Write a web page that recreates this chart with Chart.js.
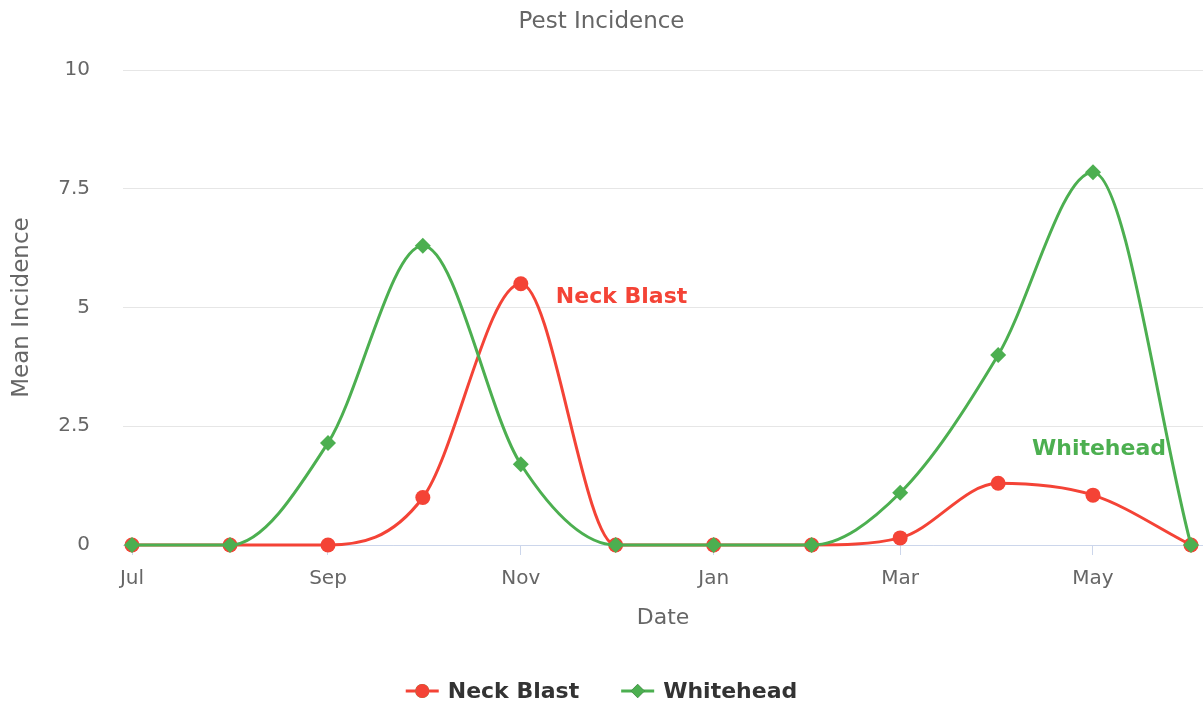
<!DOCTYPE html>
<html>
<head>
<meta charset="utf-8">
<title>Pest Incidence</title>
<script src="https://cdn.jsdelivr.net/npm/chart.js@4"></script>
<style>
  html, body { margin: 0; padding: 0; background: #fff; }
  #wrap { width: 1203px; height: 707px; }
</style>
</head>
<body>
<div id="wrap"><canvas id="pestChart" width="1203" height="707"></canvas></div>
<script>
// months from Jul to Jun, one survey at the start of each month
const months = ['Jul', 'Aug', 'Sep', 'Oct', 'Nov', 'Dec', 'Jan', 'Feb', 'Mar', 'Apr', 'May', 'Jun'];
// days since 1 Jul for each month start (time axis)
const monthDays = [0, 31, 62, 92, 123, 153, 184, 215, 243, 274, 304, 335];
const neckBlast = [0, 0, 0, 1.0, 5.5, 0, 0, 0, 0.15, 1.3, 1.05, 0];
const whitehead = [0, 0, 2.15, 6.3, 1.7, 0, 0, 0, 1.1, 4.0, 7.85, 0];
// x tick labels (every second month)
const tickLabels = ['Jul', 'Sep', 'Nov', 'Jan', 'Mar', 'May'];
const tickDays = [0, 62, 123, 184, 243, 304];

const RED = '#f44336';
const GREEN = '#4caf50';
const FONT = '"DejaVu Sans", Verdana, sans-serif';

const toPoints = (vals) => vals.map((v, i) => ({ x: monthDays[i], y: v }));

// title, axis titles, legend and series labels
const decorations = {
    id: 'decorations',
    afterDraw(chart) {
        const ctx = chart.ctx;
        const area = chart.chartArea;
        const xs = chart.scales.x;
        const ys = chart.scales.y;
        ctx.save();

        ctx.fillStyle = '#666';
        ctx.textAlign = 'center';
        ctx.textBaseline = 'middle';
        ctx.font = '23px ' + FONT;
        ctx.fillText('Pest Incidence', chart.width / 2, 22);

        ctx.font = '22px ' + FONT;
        ctx.fillText('Date', (area.left + area.right) / 2, 618);

        ctx.save();
        ctx.translate(22, (area.top + area.bottom) / 2);
        ctx.rotate(-Math.PI / 2);
        ctx.font = '23px ' + FONT;
        ctx.fillText('Mean Incidence', 0, 0);
        ctx.restore();

        // series labels next to the curves
        ctx.font = 'bold 22px ' + FONT;
        ctx.fillStyle = RED;
        ctx.textAlign = 'left';
        ctx.fillText('Neck Blast', xs.getPixelForValue(monthDays[4]) + 35, ys.getPixelForValue(5.22));
        ctx.fillStyle = GREEN;
        ctx.textAlign = 'center';
        ctx.fillText('Whitehead', xs.getPixelForValue(monthDays[10]) + 6, ys.getPixelForValue(2.02));

        // legend
        const items = [
            { label: 'Neck Blast', color: RED, style: 'circle' },
            { label: 'Whitehead', color: GREEN, style: 'rectRot' }
        ];
        ctx.font = 'bold 22px ' + FONT;
        const symW = 33, gap = 9, itemGap = 42;
        const widths = items.map(it => symW + gap + ctx.measureText(it.label).width);
        const total = widths.reduce((a, b) => a + b, 0) + itemGap * (items.length - 1);
        let x = chart.width / 2 - total / 2;
        const ly = 691;
        items.forEach((it, i) => {
            ctx.strokeStyle = it.color;
            ctx.lineWidth = 3;
            ctx.beginPath();
            ctx.moveTo(x, ly);
            ctx.lineTo(x + symW, ly);
            ctx.stroke();
            Chart.helpers.drawPoint(ctx, { pointStyle: it.style, radius: 7, borderWidth: 0 }, x + symW / 2, ly);
            ctx.fillStyle = it.color;
            ctx.fill();
            ctx.fillStyle = '#333';
            ctx.textAlign = 'left';
            ctx.fillText(it.label, x + symW + gap, ly + 1);
            x += widths[i] + itemGap;
        });
        ctx.restore();
    }
};

new Chart(document.getElementById('pestChart').getContext('2d'), {
    type: 'line',
    data: {
        datasets: [
            {
                label: 'Neck Blast',
                data: toPoints(neckBlast),
                borderColor: RED,
                backgroundColor: RED,
                borderWidth: 3,
                pointStyle: 'circle',
                pointRadius: 7.5,
                pointBorderWidth: 0,
                pointBackgroundColor: RED,
                cubicInterpolationMode: 'monotone',
                clip: false,
                order: 2
            },
            {
                label: 'Whitehead',
                data: toPoints(whitehead),
                borderColor: GREEN,
                backgroundColor: GREEN,
                borderWidth: 3,
                pointStyle: 'rectRot',
                pointRadius: 8,
                pointBorderWidth: 0,
                pointBackgroundColor: GREEN,
                cubicInterpolationMode: 'monotone',
                clip: false,
                order: 1
            }
        ]
    },
    options: {
        responsive: false,
        animation: false,
        layout: { autoPadding: false, padding: { top: 70, right: 0, bottom: 0, left: 0 } },
        plugins: {
            legend: { display: false },
            title: { display: false },
            tooltip: { enabled: false }
        },
        scales: {
            x: {
                type: 'linear',
                min: -2.85,
                max: 338.8,
                afterBuildTicks: (scale) => {
                    scale.ticks = tickDays.map(v => ({ value: v }));
                },
                afterFit: (scale) => { scale.height = 162; },
                grid: {
                    drawOnChartArea: false,
                    drawTicks: true,
                    tickLength: 10,
                    tickColor: '#ccd6eb'
                },
                border: { display: true, color: '#ccd6eb', width: 1 },
                ticks: {
                    autoSkip: false,
                    maxRotation: 0,
                    padding: 12,
                    color: '#666',
                    font: { family: FONT, size: 20 },
                    callback: (v) => tickLabels[tickDays.indexOf(v)]
                }
            },
            y: {
                min: 0,
                max: 10,
                afterFit: (scale) => { scale.width = 123; },
                grid: { color: '#e6e6e6', lineWidth: 1, drawTicks: false },
                border: { display: false },
                ticks: {
                    stepSize: 2.5,
                    padding: 33,
                    color: '#666',
                    font: { family: FONT, size: 20 },
                    callback: (v) => String(v)
                }
            }
        }
    },
    plugins: [decorations]
});
</script>
</body>
</html>
